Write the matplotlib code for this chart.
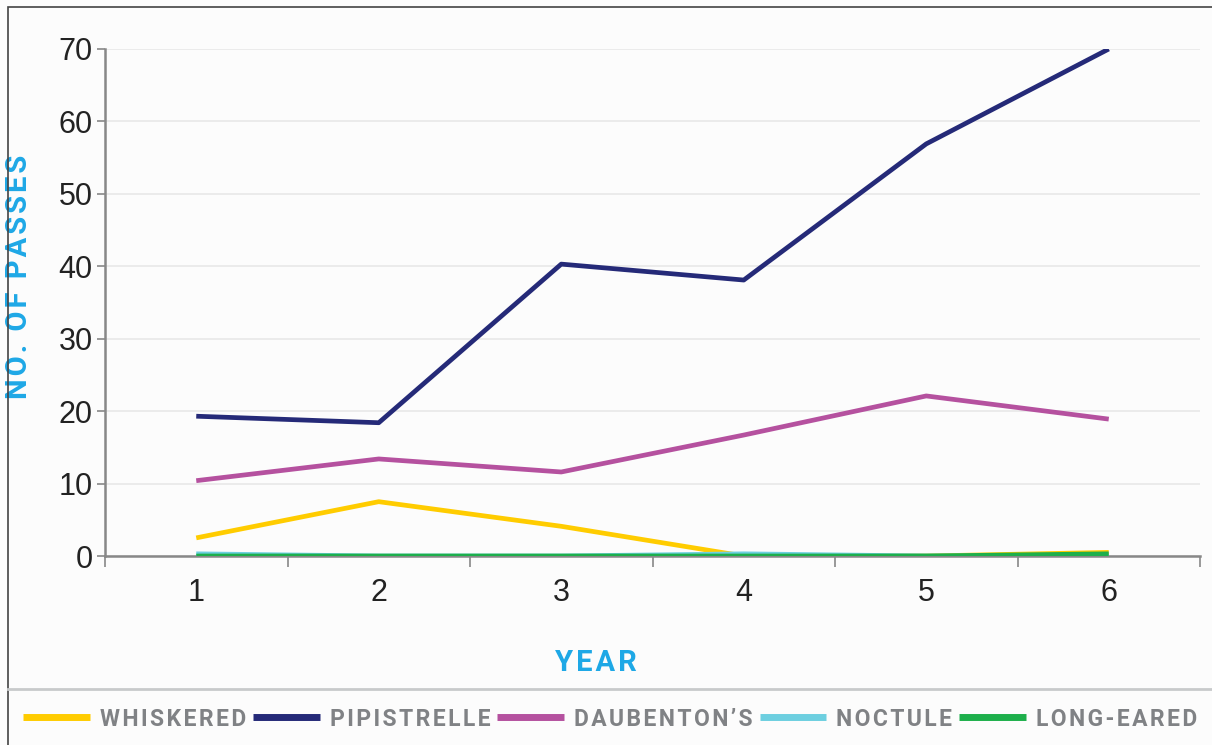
"""Bat passes per year by species, recorded over six survey years."""

import matplotlib

matplotlib.use("Agg")
import matplotlib.pyplot as plt  # noqa: E402
from matplotlib.lines import Line2D  # noqa: E402
from matplotlib.patches import Rectangle  # noqa: E402

years = [1, 2, 3, 4, 5, 6]
species = ["WHISKERED", "PIPISTRELLE", "DAUBENTON\u2019S", "NOCTULE", "LONG-EARED"]
whiskered = [2.5, 7.5, 4.1, 0.0, 0.0, 0.5]
pipistrelle = [19.3, 18.4, 40.3, 38.1, 56.9, 70.0]
daubentons = [10.4, 13.4, 11.6, 16.7, 22.1, 18.9]
noctule = [0.3, 0.0, 0.0, 0.3, 0.0, 0.0]
long_eared = [0.0, 0.0, 0.0, 0.0, 0.0, 0.3]
y_ticks = [0, 10, 20, 30, 40, 50, 60, 70]

COLOURS = ["#FFCC00", "#252A78", "#B5519F", "#6DCFE0", "#1DAF4B"]
CYAN = "#1EA8E6"
GREY_TEXT = "#808285"


def spaced(text, gap="\u200a"):
    """Letter-space a label the way the print layout does."""
    return gap.join(text)


fig = plt.figure(figsize=(12.12, 7.45), dpi=100)
fig.patch.set_facecolor("#fcfcfc")

# Outer frame (runs off the right and bottom edges) and legend divider.
fig.patches.append(Rectangle((8 / 1212, -0.1), 1.2, 1 - 7 / 745 + 0.1,
                             transform=fig.transFigure, fill=False,
                             edgecolor="#444444", lw=1.2))
fig.lines.append(Line2D([8 / 1212, 1.0], [1 - 689 / 745] * 2,
                        transform=fig.transFigure, color="#c8cacb", lw=2))

ax = fig.add_axes([105 / 1212, 1 - 556 / 745, 1095 / 1212, 507 / 745])
ax.set_facecolor("none")

series = [whiskered, pipistrelle, daubentons, noctule, long_eared]
handles = []
for name, values, colour in zip(species, series, COLOURS):
    (line,) = ax.plot(years, values, color=colour, lw=3.4,
                      solid_capstyle="butt", label=spaced(name), zorder=3)
    handles.append(line)

ax.set_xlim(0.5, 6.5)
ax.set_ylim(0, 70)
ax.set_yticks(y_ticks)
ax.set_xticks(years)
ax.set_xticks([y - 0.5 for y in years] + [6.5], minor=True)
ax.tick_params(axis="x", which="major", length=0, pad=16,
               labelsize=22, labelcolor="#222222")
ax.tick_params(axis="x", which="minor", length=8, width=1.2,
               color="#888888", direction="out")
ax.tick_params(axis="y", length=6, width=1.2, color="#888888", pad=3,
               labelsize=22, labelcolor="#222222")
for lbl in ax.get_xticklabels() + ax.get_yticklabels():
    lbl.set_fontfamily("Liberation Sans")
ax.grid(axis="y", color="#e8e8e8", lw=1.2, zorder=0)

for side in ("top", "right"):
    ax.spines[side].set_visible(False)
for side in ("left", "bottom"):
    ax.spines[side].set_color("#888888")
    ax.spines[side].set_linewidth(1.8)

ax.set_ylabel(spaced("NO. OF PASSES"), color=CYAN, fontsize=21,
              fontweight="bold", family="Roboto")
ax.yaxis.set_label_coords(-72 / 1095, 0.55)
ax.set_xlabel(spaced("YEAR"), color=CYAN, fontsize=21,
              fontweight="bold", family="Roboto")
ax.xaxis.set_label_coords(491 / 1095, -93 / 507)

leg = fig.legend(handles=handles, loc="center left",
                 bbox_to_anchor=(14 / 1212, 1 - 719 / 745), ncol=5,
                 frameon=False, handlelength=2.9, handletextpad=0.45,
                 columnspacing=0.3, borderaxespad=0,
                 prop={"family": "Roboto", "weight": "bold", "size": 16.5},
                 labelcolor=GREY_TEXT)
for handle in leg.legend_handles:
    handle.set_linewidth(5)

fig.savefig("out.png", dpi=100, facecolor=fig.get_facecolor())
